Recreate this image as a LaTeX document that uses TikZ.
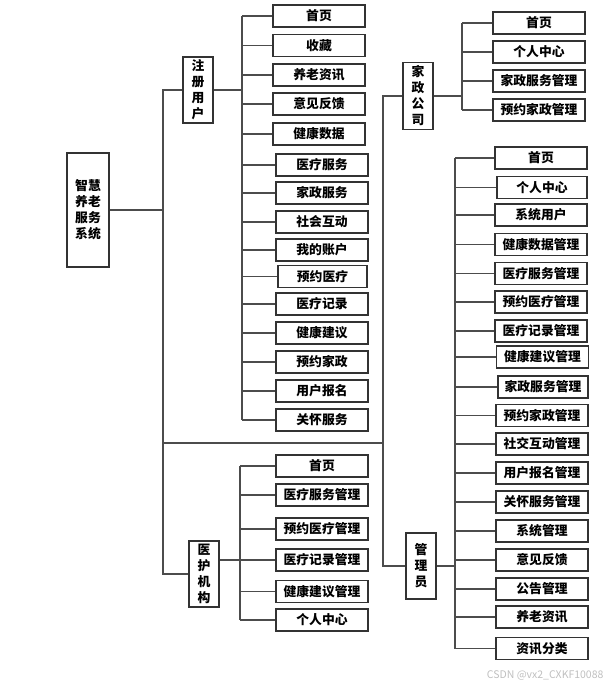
\documentclass[tikz,border=0pt]{standalone}
\usepackage{fontspec}
\setmainfont{Noto Sans CJK SC}
\tikzset{
  leaf/.style={draw=black!80, line width=1.1pt, minimum width=92pt, minimum height=22pt,
    inner sep=0pt, font=\fontsize{12.8}{15}\selectfont\bfseries},
  role/.style={draw=black!80, line width=1.1pt, minimum width=30pt, minimum height=66pt,
    inner sep=0pt, align=center, font=\fontsize{12.8}{16}\selectfont\bfseries},
  wire/.style={gray!60!black, line width=1.1pt}
}
\begin{document}
\begin{tikzpicture}[x=1pt, y=-1pt]
    \useasboundingbox (0, 0) rectangle (616, 686);

    % Root box
    \node[role, minimum width=42pt, minimum height=114pt] (root) at (88, 210) {智慧\\养老\\服务\\系统};

    % Roles
    \node[role] (reg) at (198, 90) {注\\册\\用\\户};
    \node[role] (med) at (204, 574) {医\\护\\机\\构};
    \node[role, minimum height=67pt] (jz) at (418, 96) {家\\政\\公\\司};
    \node[role] (adm) at (421, 566) {管\\理\\员};

    % Buses
    \coordinate (bus) at (163, 0);
    \coordinate (bus2) at (383, 443);
    \coordinate (regbus) at (242, 0);
    \coordinate (medbus) at (240, 0);
    \coordinate (jzbus) at (462, 0);
    \coordinate (admbus) at (455, 0);

    % Registered user pages
    \node[leaf] (r1) at (319, 16) {首页};
    \node[leaf] (r2) at (319, 45.5) {收藏};
    \node[leaf] (r3) at (319, 75) {养老资讯};
    \node[leaf] (r4) at (319, 104) {意见反馈};
    \node[leaf] (r5) at (319, 134) {健康数据};
    \node[leaf] (r6) at (322, 165) {医疗服务};
    \node[leaf] (r7) at (322, 193) {家政服务};
    \node[leaf] (r8) at (322, 222) {社会互动};
    \node[leaf] (r9) at (322, 250) {我的账户};
    \node[leaf, minimum width=89pt] (r10) at (322.5, 276.5) {预约医疗};
    \node[leaf] (r11) at (322, 304) {医疗记录};
    \node[leaf] (r12) at (322, 333) {健康建议};
    \node[leaf] (r13) at (322, 362) {预约家政};
    \node[leaf] (r14) at (322, 391) {用户报名};
    \node[leaf] (r15) at (322, 420) {关怀服务};

    % Medical institution pages
    \node[leaf] (m1) at (322, 466) {首页};
    \node[leaf] (m2) at (322, 495) {医疗服务管理};
    \node[leaf] (m3) at (322, 529) {预约医疗管理};
    \node[leaf] (m4) at (322, 560) {医疗记录管理};
    \node[leaf] (m5) at (322, 591.5) {健康建议管理};
    \node[leaf] (m6) at (322, 620) {个人中心};

    % Housekeeping company pages
    \node[leaf] (j1) at (539, 23) {首页};
    \node[leaf] (j2) at (539, 52) {个人中心};
    \node[leaf] (j3) at (539, 81) {家政服务管理};
    \node[leaf] (j4) at (539, 110) {预约家政管理};

    % Administrator pages
    \node[leaf] (a1) at (541, 158) {首页};
    \node[leaf, minimum width=90pt] (a2) at (542, 187.5) {个人中心};
    \node[leaf] (a3) at (541, 215) {系统用户};
    \node[leaf] (a4) at (541, 244.5) {健康数据管理};
    \node[leaf] (a5) at (541, 273.5) {医疗服务管理};
    \node[leaf] (a6) at (541, 302) {预约医疗管理};
    \node[leaf] (a7) at (541, 331) {医疗记录管理};
    \node[leaf] (a8) at (542.5, 357) {健康建议管理};
    \node[leaf, minimum width=90pt] (a9) at (543, 387) {家政服务管理};
    \node[leaf] (a10) at (542, 415.5) {预约家政管理};
    \node[leaf] (a11) at (542, 444) {社交互动管理};
    \node[leaf] (a12) at (542, 473) {用户报名管理};
    \node[leaf] (a13) at (542, 502) {关怀服务管理};
    \node[leaf] (a14) at (542, 531) {系统管理};
    \node[leaf] (a15) at (542, 560) {意见反馈};
    \node[leaf] (a16) at (542, 589) {公告管理};
    \node[leaf] (a17) at (542, 617) {养老资讯};
    \node[leaf] (a18) at (542, 648.5) {资讯分类};

    % Root to roles
    \draw[wire] (root.east) -- (bus |- root.east);
    \draw[wire] (reg.west) -- (bus |- reg.west) -- (bus |- med.west) -- (med.west);
    \draw[wire] (bus |- bus2) -- (bus2);
    \draw[wire] (jz.west) -- (bus2 |- jz.west) -- (bus2 |- adm.west) -- (adm.west);

    % Registered user links
    \draw[wire] (reg.east) -- (regbus |- reg.east);
    \draw[wire] (regbus |- r1.west) -- (regbus |- r15.west);
    \foreach \k in {1,...,15}
      \draw[wire] (regbus |- r\k.west) -- (r\k.west);

    % Medical institution links
    \draw[wire] (med.east |- m4.west) -- (medbus |- m4.west);
    \draw[wire] (medbus |- m1.west) -- (medbus |- m6.west);
    \foreach \k in {1,...,6}
      \draw[wire] (medbus |- m\k.west) -- (m\k.west);

    % Housekeeping company links
    \draw[wire] (jz.east) -- (jzbus |- jz.east);
    \draw[wire] (jzbus |- j1.west) -- (jzbus |- j4.west);
    \foreach \k in {1,...,4}
      \draw[wire] (jzbus |- j\k.west) -- (j\k.west);

    % Administrator links
    \draw[wire] (adm.east) -- (admbus |- adm.east);
    \draw[wire] (admbus |- a1.west) -- (admbus |- a18.west);
    \foreach \k in {1,...,18}
      \draw[wire] (admbus |- a\k.west) -- (a\k.west);

    % Watermark
    \node[gray!50, font=\fontsize{10.5}{12}\selectfont, anchor=east] (mark) at (607, 675) {CSDN @vx2\_CXKF10088};
\end{tikzpicture}
\end{document}
